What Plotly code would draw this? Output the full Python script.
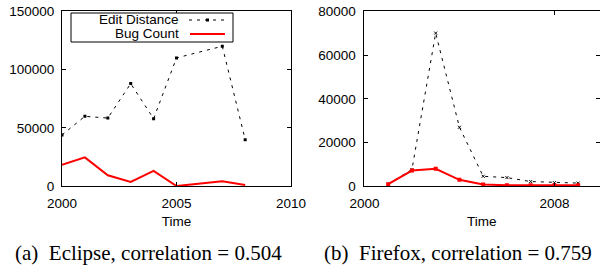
import plotly.graph_objects as go

# ---- data ----
eclipse_years = [2000, 2001, 2002, 2003, 2004, 2005, 2007, 2008]
eclipse_edit_distance = [44000, 60000, 58500, 88000, 58000, 110000, 120000, 40000]
eclipse_bug_count = [18500, 24800, 9500, 3800, 13200, 300, 4400, 1200]

firefox_years = [2001, 2002, 2003, 2004, 2005, 2006, 2007, 2008, 2009]
firefox_edit_distance = [1000, 7700, 70000, 27000, 4600, 4000, 2200, 1700, 1500]
firefox_bug_count = [1000, 7200, 8000, 3000, 900, 550, 550, 550, 500]

eclipse_xticks = [2000, 2005, 2010]
eclipse_yticks = [0, 50000, 100000, 150000]
firefox_xticks = [2000, 2008]
firefox_yticks = [0, 20000, 40000, 60000, 80000]

captions = ["(a)\u00a0 Eclipse, correlation = 0.504", "(b)\u00a0 Firefox, correlation = 0.759"]

W, H = 600, 267
SANS = "Liberation Sans, Arial, sans-serif"
SERIF = "Liberation Serif, Times New Roman, serif"
FS = 13.5

fig = go.Figure()

# Eclipse
fig.add_trace(go.Scatter(x=eclipse_years, y=eclipse_edit_distance, mode="lines+markers",
                         name="Edit Distance",
                         line=dict(color="black", width=1, dash="3px,5px"),
                         marker=dict(symbol="square", size=3, color="black"),
                         xaxis="x", yaxis="y", showlegend=False))
fig.add_trace(go.Scatter(x=eclipse_years, y=eclipse_bug_count, mode="lines",
                         name="Bug Count",
                         line=dict(color="#ff0000", width=2),
                         xaxis="x", yaxis="y", showlegend=False))
# Firefox
fig.add_trace(go.Scatter(x=firefox_years, y=firefox_edit_distance, mode="lines+markers",
                         name="Edit Distance",
                         line=dict(color="black", width=1, dash="3px,5px"),
                         marker=dict(symbol="x-thin", size=3, color="black",
                                     line=dict(width=1, color="black")),
                         xaxis="x2", yaxis="y2", showlegend=False))
fig.add_trace(go.Scatter(x=firefox_years, y=firefox_bug_count, mode="lines+markers",
                         name="Bug Count",
                         line=dict(color="#ff0000", width=2),
                         marker=dict(symbol="square", size=4, color="#ff0000"),
                         xaxis="x2", yaxis="y2", showlegend=False))

ydom = [0.302, 0.958]
axis_common = dict(showline=True, linecolor="black", linewidth=1, mirror="ticks",
                   ticks="inside", ticklen=4, tickcolor="black", tickwidth=1,
                   showgrid=False, zeroline=False, automargin=False,
                   tickfont=dict(family=SANS, size=FS, color="black"))

fig.update_layout(
    width=W, height=H,
    margin=dict(l=0, r=0, t=0, b=0, pad=0),
    paper_bgcolor="white", plot_bgcolor="white",
    hovermode=False,
    xaxis=dict(domain=[62 / W, 291 / W], range=[2000, 2010], tickvals=eclipse_xticks,
               anchor="y", ticklabelstandoff=4,
               title=dict(text="Time", font=dict(family=SANS, size=FS, color="black"), standoff=6),
               **axis_common),
    yaxis=dict(domain=ydom, range=[0, 150000], tickvals=eclipse_yticks, tickformat="d",
               anchor="x", ticklabelstandoff=4, **axis_common),
    xaxis2=dict(domain=[363.5 / W, 1.0], range=[1999.96, 2009.92], tickvals=firefox_xticks,
                anchor="y2", ticklabelstandoff=4,
                title=dict(text="Time", font=dict(family=SANS, size=FS, color="black"), standoff=6),
                **axis_common),
    yaxis2=dict(domain=ydom, range=[0, 80000], tickvals=firefox_yticks, tickformat="d",
                anchor="x2", ticklabelstandoff=4, **axis_common),
)

def py(pix):
    return (H - pix) / H

# custom gnuplot-style legend in the Eclipse panel
shapes = [
    dict(type="rect", xref="paper", yref="paper", x0=71 / W, x1=233 / W, y0=py(42), y1=py(13),
         line=dict(color="black", width=1), fillcolor="white", layer="above"),
    dict(type="line", xref="paper", yref="paper", x0=189 / W, x1=226 / W, y0=py(20), y1=py(20),
         line=dict(color="black", width=1, dash="3px,5px"), layer="above"),
    dict(type="rect", xref="paper", yref="paper", x0=206 / W, x1=209 / W, y0=py(21.5), y1=py(18.5),
         line=dict(width=0), fillcolor="black", layer="above"),
    dict(type="line", xref="paper", yref="paper", x0=190 / W, x1=225 / W, y0=py(34), y1=py(34),
         line=dict(color="#ff0000", width=2), layer="above"),
]
annotations = [
    dict(text="Edit Distance", xref="paper", yref="paper", x=181 / W, y=py(20),
         xanchor="right", yanchor="middle", showarrow=False,
         font=dict(family=SANS, size=FS, color="black")),
    dict(text="Bug Count", xref="paper", yref="paper", x=181 / W, y=py(34),
         xanchor="right", yanchor="middle", showarrow=False,
         font=dict(family=SANS, size=FS, color="black")),
    dict(text=captions[0], xref="paper", yref="paper", x=148.5 / W, y=py(253),
         xanchor="center", yanchor="middle", showarrow=False,
         font=dict(family=SERIF, size=21, color="black")),
    dict(text=captions[1], xref="paper", yref="paper", x=458 / W, y=py(253),
         xanchor="center", yanchor="middle", showarrow=False,
         font=dict(family=SERIF, size=21, color="black")),
]
fig.update_layout(shapes=shapes, annotations=annotations)

fig.write_html("out.html",
               config={"displayModeBar": False, "staticPlot": True},
               post_script="document.body.style.margin='0';document.body.style.overflow='hidden';")
